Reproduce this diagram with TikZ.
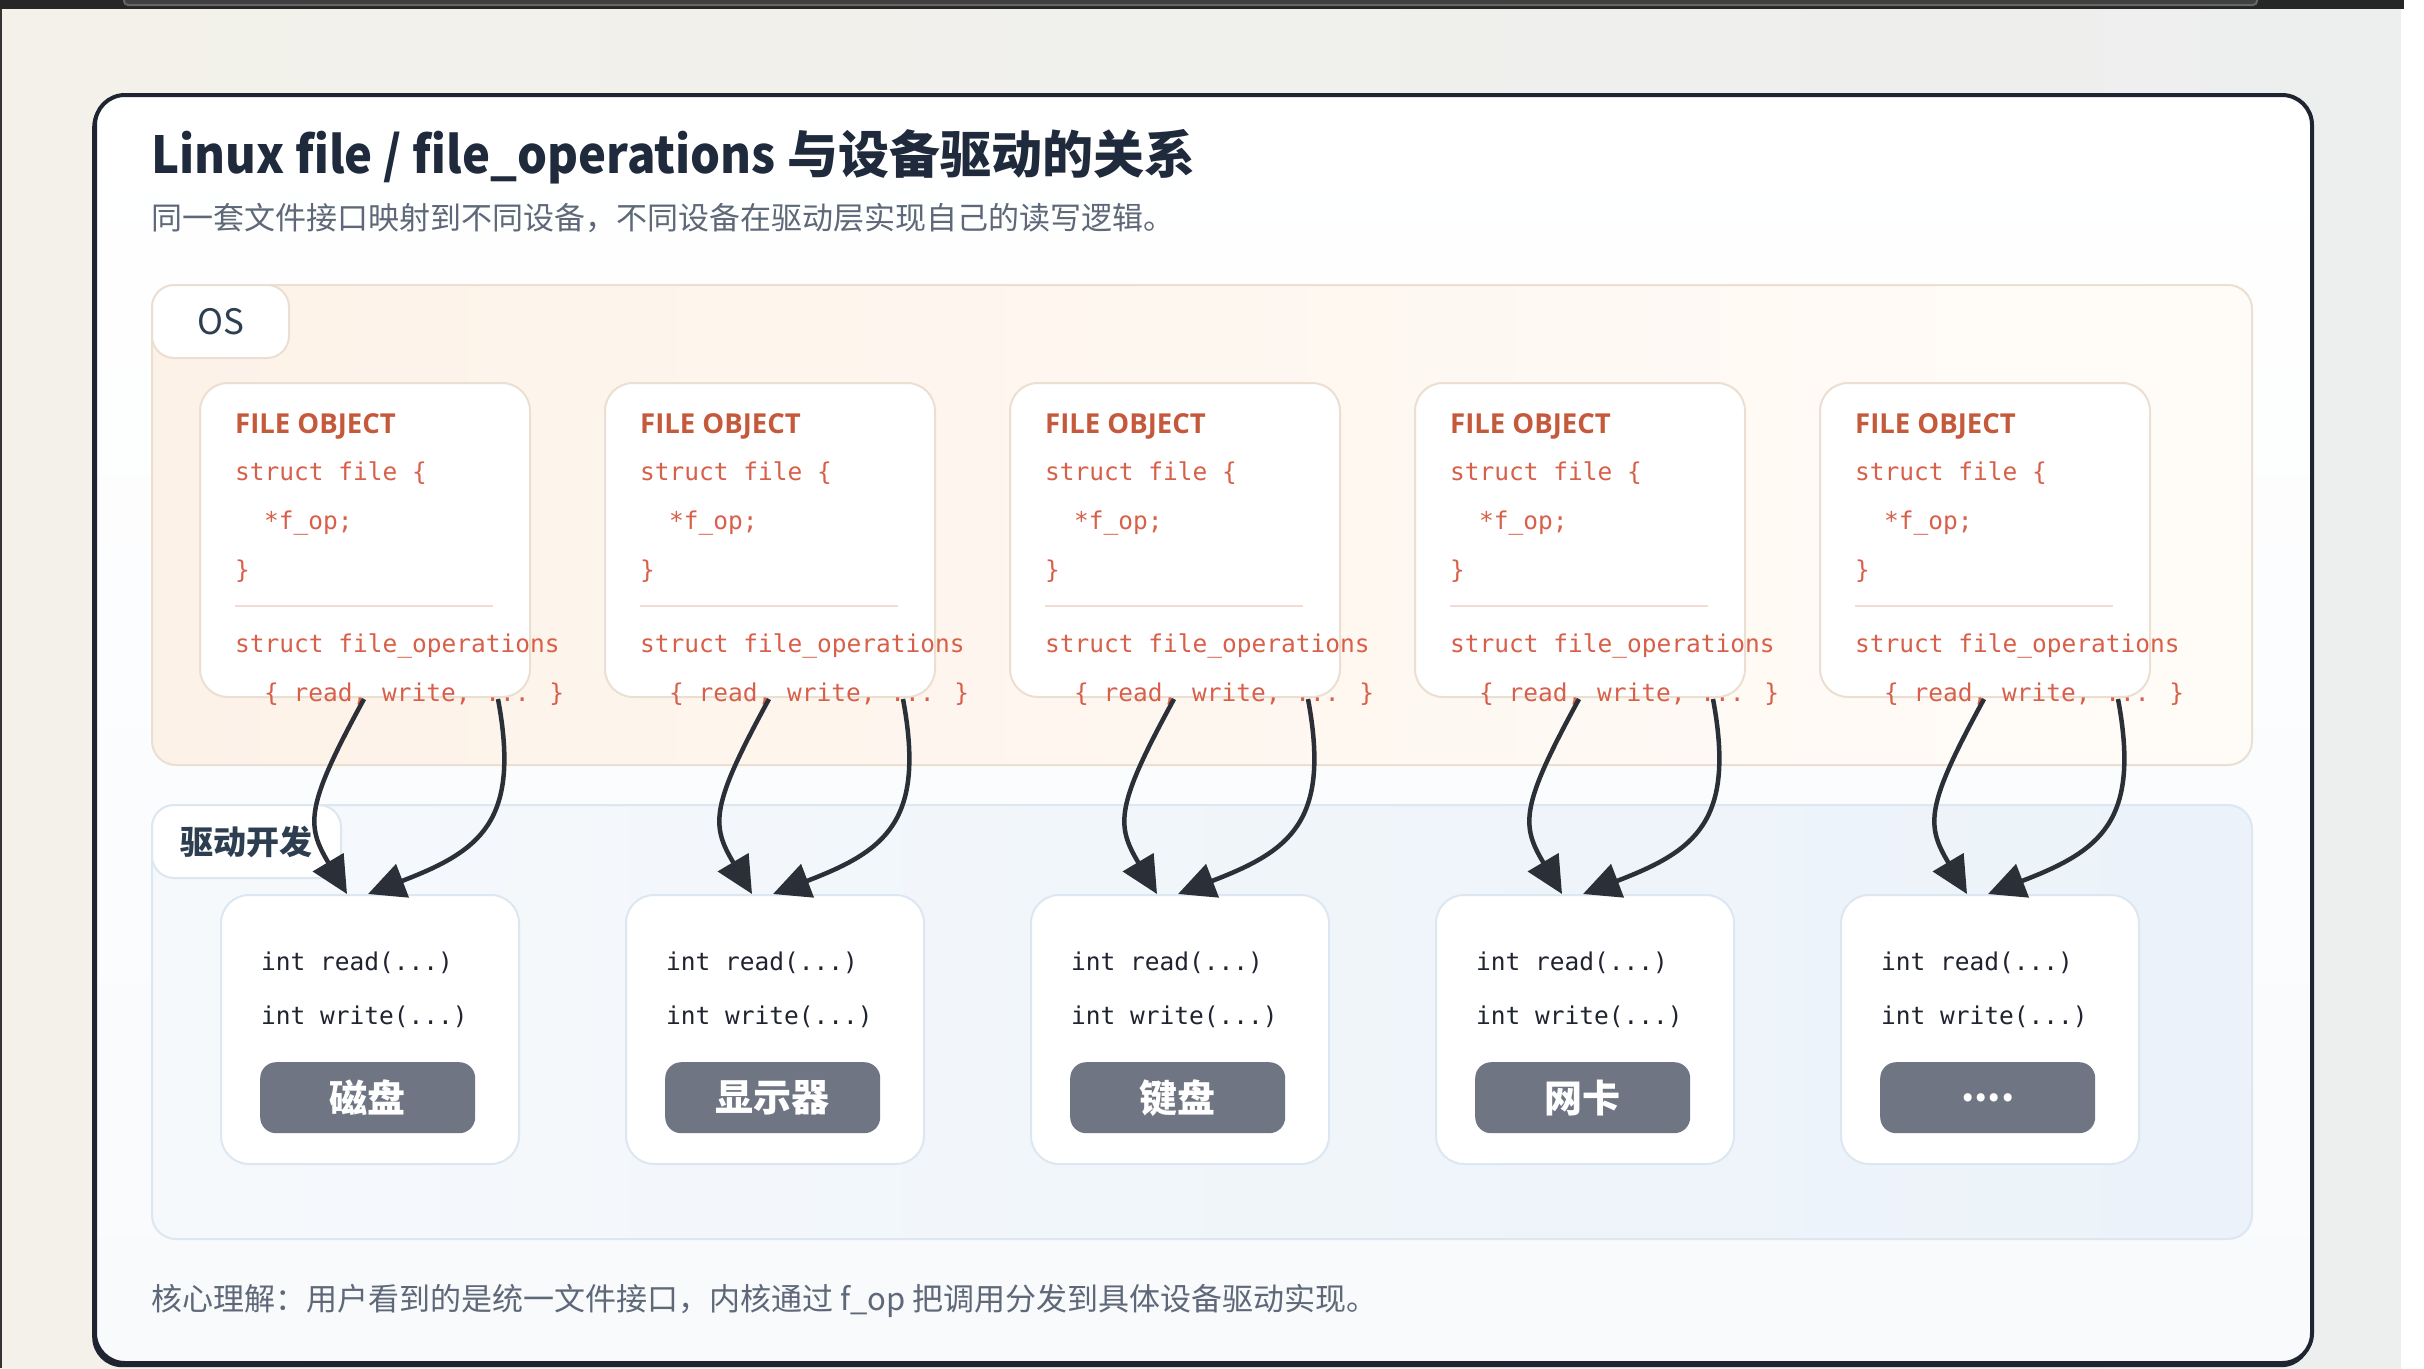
\documentclass[tikz,border=0pt]{standalone}
\usepackage{fontspec}
\setmainfont{Noto Sans CJK SC}
\newfontfamily\monof{DejaVu Sans Mono}
\newfontfamily\osans{Open Sans}
\usetikzlibrary{arrows.meta,calc}
\definecolor{bgL}{HTML}{F3F1EA}
\definecolor{bgR}{HTML}{EDEFEE}
\definecolor{cardborder}{HTML}{1E2430}
\definecolor{cardbot}{HTML}{F8FAFC}
\definecolor{titlec}{HTML}{1F2A3C}
\definecolor{subc}{HTML}{5E6878}
\definecolor{osL}{HTML}{FDF2E8}
\definecolor{osR}{HTML}{FFFCF8}
\definecolor{osborder}{HTML}{EBDFD2}
\definecolor{drvL}{HTML}{F6F9FC}
\definecolor{drvR}{HTML}{EBF2F9}
\definecolor{drvborder}{HTML}{DCE7F1}
\definecolor{rust}{HTML}{C45A3B}
\definecolor{codered}{HTML}{D8604A}
\definecolor{sepc}{HTML}{F3DAD3}
\definecolor{codedark}{HTML}{1F2430}
\definecolor{btn}{HTML}{6F7583}
\definecolor{arrowc}{HTML}{2B3038}
\definecolor{navy}{HTML}{2C3E50}
\newcommand\fourdots{....}
\tikzset{
  box/.style={rectangle, inner sep=0pt, anchor=north west},
  panel/.style={box, line width=2pt, rounded corners=24pt},
  tab/.style={box, line width=2pt, fill=white, rounded corners=22pt},
  filebox/.style={box, draw=osborder, line width=2pt, fill=white, rounded corners=28pt, minimum width=330pt, minimum height=314pt},
  drvbox/.style={box, draw=drvborder, line width=2pt, fill=white, rounded corners=28pt, minimum width=298pt, minimum height=269pt},
  btnbox/.style={box, fill=btn, rounded corners=16pt, minimum width=215pt, minimum height=71pt},
  code/.style={anchor=base west, inner sep=0pt, text=codered, font=\monof\fontsize{24.5}{28}\selectfont},
  dcode/.style={anchor=base west, inner sep=0pt, text=codedark, font=\monof\fontsize{24.5}{28}\selectfont},
  fohead/.style={anchor=base west, inner sep=0pt, text=rust, font=\osans\bfseries\fontsize{27.5}{32}\selectfont},
  btnlabel/.style={text=white, font=\bfseries\fontsize{38}{44}\selectfont},
  arr/.style={draw=arrowc, line width=4.5pt, -{Triangle[length=37pt,width=35pt]}},
}
\begin{document}
\begin{tikzpicture}[x=1pt,y=-1pt]
\useasboundingbox (0,0) rectangle (2424,1368);
% page background
\shade[left color=bgL, right color=bgR] (0,0) rectangle (2401,1368);
\fill[white] (2401,0) rectangle (2424,1368);
\fill[black!85] (0,0) rectangle (2404,9);
\draw[black!60, line width=2pt, fill=black!75, rounded corners=4pt] (124,-6) rectangle (2257,5);
\draw[black!80, line width=2.5pt] (1,9) -- (1,1368);
% card
\node[box, fill=cardborder, rounded corners=30pt, minimum width=2219pt, minimum height=1270pt] (cardshadow) at (92,97) {};
\node[box, draw=cardborder, line width=4pt, rounded corners=30pt, top color=white, bottom color=cardbot, minimum width=2217pt, minimum height=1268pt] (card) at (93,93) {};
% title
\node[anchor=base west, inner sep=0pt, text=titlec, font=\bfseries\fontsize{51}{60}\selectfont] (title) at (151,173) {{\addfontfeature{FakeStretch=0.925}Linux file / file\_operations} 与设备驱动的关系};
\node[anchor=base west, inner sep=0pt, text=subc, font=\fontsize{31}{36}\selectfont] (sub) at (151,229) {同一套文件接口映射到不同设备，不同设备在驱动层实现自己的读写逻辑。};
% OS panel
\node[panel, draw=osborder, left color=osL, right color=osR, minimum width=2100pt, minimum height=480pt] (os) at (151,284) {};
\node[tab, draw=osborder, minimum width=137pt, minimum height=73pt] (ostab) at (151,284) {};
\node[text=navy, font=\fontsize{35}{40}\selectfont] (oslabel) at (ostab.center) {OS};
% driver panel
\node[panel, draw=drvborder, left color=drvL, right color=drvR, minimum width=2100pt, minimum height=434pt] (drv) at (151,804) {};
\node[tab, draw=drvborder, minimum width=189pt, minimum height=73pt] (drvtab) at (151,804) {};
\node[text=navy, font=\bfseries\fontsize{33}{40}\selectfont] (drvlabel) at (drvtab.center) {驱动开发};
% columns
\foreach \i/\lab in {0/磁盘,1/显示器,2/键盘,3/网卡,4/\fourdots}{
  \pgfmathsetmacro\xo{199+405*\i}
  \pgfmathsetmacro\dx{220+405*\i}
  \node[filebox] (fo\i) at (\xo,382) {};
  \node[fohead] (foh\i) at (\xo+36,433) {FILE OBJECT};
  \node[code] (c1\i) at (\xo+36,480) {struct file \{};
  \node[code] (c2\i) at (\xo+65,529) {*f\_op;};
  \node[code] (c3\i) at (\xo+36,578) {\}};
  \draw[sepc, line width=2pt] (\xo+36,606) -- (\xo+294,606);
  \node[code] (c4\i) at (\xo+36,652) {struct file\_operations};
  \node[code] (c5\i) at (\xo+65,701) {\{ read, write, ... \}};
  \node[drvbox] (dr\i) at (\dx,894) {};
  \node[dcode] (r\i) at (\dx+41,970) {int read(...)};
  \node[dcode] (w\i) at (\dx+41,1024) {int write(...)};
  \node[btnbox] (b\i) at (\dx+40,1062) {};
  \node[btnlabel] (bl\i) at (b\i.center) {\lab};
  \draw[arr] ($(fo\i.south west)+(165,1)$) .. controls +(-59,108) and +(-41,-69) .. ($(dr\i.north west)+(127,0)$);
  \draw[arr] ($(fo\i.south west)+(299,1)$) .. controls +(23,123) and +(112,-43) .. ($(dr\i.north west)+(148,0)$);
}
% footer
\node[anchor=base west, inner sep=0pt, text=subc, font=\fontsize{31}{36}\selectfont] (footer) at (151,1310) {核心理解：用户看到的是统一文件接口，内核通过 f\_op 把调用分发到具体设备驱动实现。};
\end{tikzpicture}
\end{document}
